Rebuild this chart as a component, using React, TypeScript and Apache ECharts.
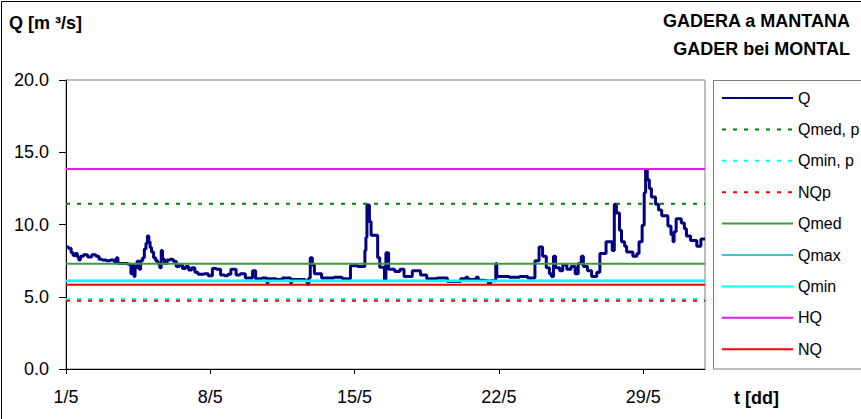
import React, { useEffect, useRef } from "react";
import * as echarts from "echarts";

// Time in days since 1/5 00:00, and discharge Q [m3/s]
const qTime = [
  0.0, 0.12, 0.25, 0.35, 0.45, 0.55, 0.62, 0.7, 0.85, 1.05, 1.25, 1.45, 1.6, 1.75, 1.95, 2.15, 2.35, 2.45, 2.52, 2.75,
  3.0, 3.15, 3.2, 3.3, 3.35, 3.45, 3.55, 3.62, 3.72, 3.8, 3.88, 3.95, 4.02, 4.08, 4.15, 4.25, 4.35, 4.45, 4.55, 4.62,
  4.68, 4.78, 4.9, 5.05, 5.2, 5.35, 5.5, 5.65, 5.8, 5.95, 6.1, 6.25, 6.4, 6.7, 6.9, 7.1, 7.3, 7.5, 7.7, 7.85,
  8.0, 8.25, 8.45, 8.7, 9.05, 9.2, 9.5, 9.75, 9.8, 10.2, 10.5, 10.9, 10.95, 11.3, 11.6, 11.7, 11.78, 11.85, 11.95, 12.05,
  12.4, 12.7, 13.0, 13.4, 13.8, 14.15, 14.5, 14.55, 14.6, 14.72, 14.8, 15.12, 15.22, 15.45, 15.52, 15.65, 15.95, 16.2, 16.4, 16.8,
  17.2, 17.5, 18.0, 18.5, 19.15, 19.4, 19.5, 19.9, 20.0, 20.3, 20.5, 20.6, 20.85, 20.9, 21.5, 22.0, 22.4, 22.75, 22.95, 23.12,
  23.3, 23.45, 23.55, 23.65, 23.75, 23.95, 24.1, 24.3, 24.5, 24.7, 24.85, 25.0, 25.1, 25.3, 25.5, 25.75, 25.9, 26.2, 26.5, 26.6,
  26.7, 26.85, 26.95, 27.1, 27.2, 27.5, 27.7, 27.8, 27.95, 28.05, 28.12, 28.2, 28.3, 28.4, 28.6, 28.75, 28.9, 29.2, 29.35, 29.45,
  29.5, 29.6, 29.85, 30.0, 30.1, 30.3, 30.6, 30.8, 31.0,
];
const qValue = [
  8.45, 8.35, 8.05, 7.85, 8.0, 7.75, 7.55, 7.8, 7.9, 7.75, 7.9, 7.8, 7.6, 7.55, 7.5, 7.55, 7.4, 7.7, 7.3, 7.3,
  7.25, 6.6, 7.2, 6.4, 7.0, 7.45, 6.9, 7.5, 7.7, 8.3, 8.7, 9.2, 8.8, 8.4, 8.1, 7.7, 7.5, 7.3, 7.0, 8.2,
  7.6, 7.3, 7.55, 7.6, 7.45, 7.1, 7.2, 6.95, 7.1, 6.85, 7.0, 6.7, 6.55, 6.6, 6.45, 6.95, 6.9, 6.5, 6.45, 6.55,
  6.9, 6.5, 6.6, 6.3, 6.8, 6.25, 6.3, 5.95, 6.25, 6.2, 6.3, 5.95, 6.2, 6.2, 6.1, 5.85, 6.3, 7.7, 7.2, 6.6,
  6.3, 6.3, 6.35, 6.25, 7.15, 7.1, 8.2, 9.1, 11.35, 10.2, 9.25, 7.7, 7.05, 6.2, 8.05, 6.9, 6.75, 6.9, 6.4, 6.8,
  6.5, 6.25, 6.3, 6.05, 6.25, 6.35, 6.2, 6.35, 6.15, 6.1, 5.9, 6.1, 7.3, 6.4, 6.35, 6.4, 6.3, 7.5, 8.45, 7.8,
  7.0, 6.6, 6.4, 7.8, 7.0, 6.8, 7.2, 6.9, 7.1, 6.6, 7.3, 7.8, 7.1, 6.8, 6.4, 6.7, 8.0, 8.8, 8.2, 11.4,
  10.8, 9.6, 8.8, 8.5, 8.1, 7.8, 8.0, 8.8, 9.95, 12.2, 13.8, 13.1, 12.5, 11.9, 11.4, 11.0, 10.6, 9.9, 9.3, 8.8,
  9.5, 10.4, 10.1, 9.7, 9.2, 8.9, 8.5, 9.0, 9.0,
];

// Reference levels
const refNames = ["Qmed, p", "Qmin, p", "NQp", "Qmed", "Qmax", "Qmin", "HQ", "NQ"];
const refValues = [11.44, 4.84, 4.73, 7.29, 6.12, 6.08, 13.84, 5.83];
const refColors = ["#008000", "#00FFFF", "#FF0000", "#3C9A3C", "#33CCCC", "#00FFFF", "#E020E0", "#FF0000"];
const refDashed = [true, true, true, false, false, false, false, false];

const xTickValues = [0, 7, 14, 21, 28];
const xTickLabels = ["1/5", "8/5", "15/5", "22/5", "29/5"];
const xRange = [0, 31];

const FONT = "'Liberation Sans', Arial, sans-serif";

export default function App() {
  const ref = useRef<HTMLDivElement>(null);
  useEffect(() => {
    if (!ref.current) return;
    const chart = echarts.init(ref.current, null, { renderer: "svg" });
    const qData = qTime.map((t, i) => [t, qValue[i]]);
    const refSeries = refNames.map((name, i) => ({
      name,
      type: "line",
      data: [
        [xRange[0], refValues[i]],
        [xRange[1], refValues[i]],
      ],
      symbol: "none",
      silent: true,
      lineStyle: {
        color: refColors[i],
        width: 2,
        type: refDashed[i] ? [4, 7] : "solid",
      },
      itemStyle: { color: refColors[i] },
    }));
    chart.setOption({
      animation: false,
      backgroundColor: "#ffffff",
      textStyle: { fontFamily: FONT },
      grid: {
        left: 66,
        top: 80,
        right: 156,
        bottom: 50,
        show: true,
        borderColor: "#808080",
        borderWidth: 1,
      },
      xAxis: {
        type: "value",
        min: xRange[0],
        max: xRange[1],
        interval: 7,
        axisLine: { lineStyle: { color: "#000", width: 1 } },
        axisTick: { show: true, inside: false, length: 5, customValues: xTickValues, lineStyle: { color: "#000" } },
        axisLabel: {
          customValues: xTickValues,
          formatter: (v: number) => {
            const idx = xTickValues.indexOf(v);
            return idx >= 0 ? xTickLabels[idx] : "";
          },
          color: "#000",
          fontSize: 18,
          margin: 19,
          fontFamily: FONT,
        },
        splitLine: { show: false },
      },
      yAxis: {
        type: "value",
        min: 0,
        max: 20,
        interval: 5,
        axisLine: { show: true, lineStyle: { color: "#000", width: 1 } },
        axisTick: { show: true, inside: false, length: 7, lineStyle: { color: "#000" } },
        axisLabel: {
          formatter: (v: number) => v.toFixed(1),
          color: "#000",
          fontSize: 18,
          margin: 17,
          fontFamily: FONT,
        },
        splitLine: { show: false },
      },
      legend: {
        orient: "vertical",
        left: 716,
        top: 85,
        padding: 5,
        itemWidth: 71,
        itemHeight: 14,
        itemGap: 15.4,
        itemTextGap: 4,
        itemStyle: { opacity: 0 },
        textStyle: { fontSize: 16, color: "#000", fontFamily: FONT, lineHeight: 16 },
        data: ["Q", ...refNames],
        z: 10,
      },
      graphic: [
        {
          type: "polyline",
          shape: { points: [[1.5, 419], [1.5, 1.5], [861, 1.5]] },
          style: { stroke: "#000", lineWidth: 1, fill: "none" },
          silent: true,
        },
        {
          type: "rect",
          shape: { x: 713.5, y: 80.5, width: 200, height: 288.5 },
          style: { stroke: "#808080", lineWidth: 1, fill: "#fff" },
          z: 1,
          silent: true,
        },
        {
          type: "text",
          left: 9,
          top: 14,
          style: { text: "Q [m ³/s]", font: `bold 18px ${FONT}`, fill: "#000" },
        },
        {
          type: "text",
          right: 11,
          top: 12,
          style: { text: "GADERA a MANTANA", font: `bold 18px ${FONT}`, fill: "#000", textAlign: "right" },
        },
        {
          type: "text",
          right: 11,
          top: 40,
          style: { text: "GADER bei MONTAL", font: `bold 18px ${FONT}`, fill: "#000", textAlign: "right" },
        },
        {
          type: "text",
          left: 734,
          top: 389,
          style: { text: "t [dd]", font: `bold 18px ${FONT}`, fill: "#000" },
        },
      ],
      series: [
        {
          name: "Q",
          type: "line",
          step: "end",
          data: qData,
          symbol: "none",
          lineStyle: { color: "#000080", width: 3 },
          itemStyle: { color: "#000080" },
        },
        ...refSeries,
      ],
    });
    return () => chart.dispose();
  }, []);
  return (
    <div
      ref={ref}
      style={{ position: "fixed", left: 0, top: 0, width: 861, height: 419, background: "#fff" }}
    />
  );
}
